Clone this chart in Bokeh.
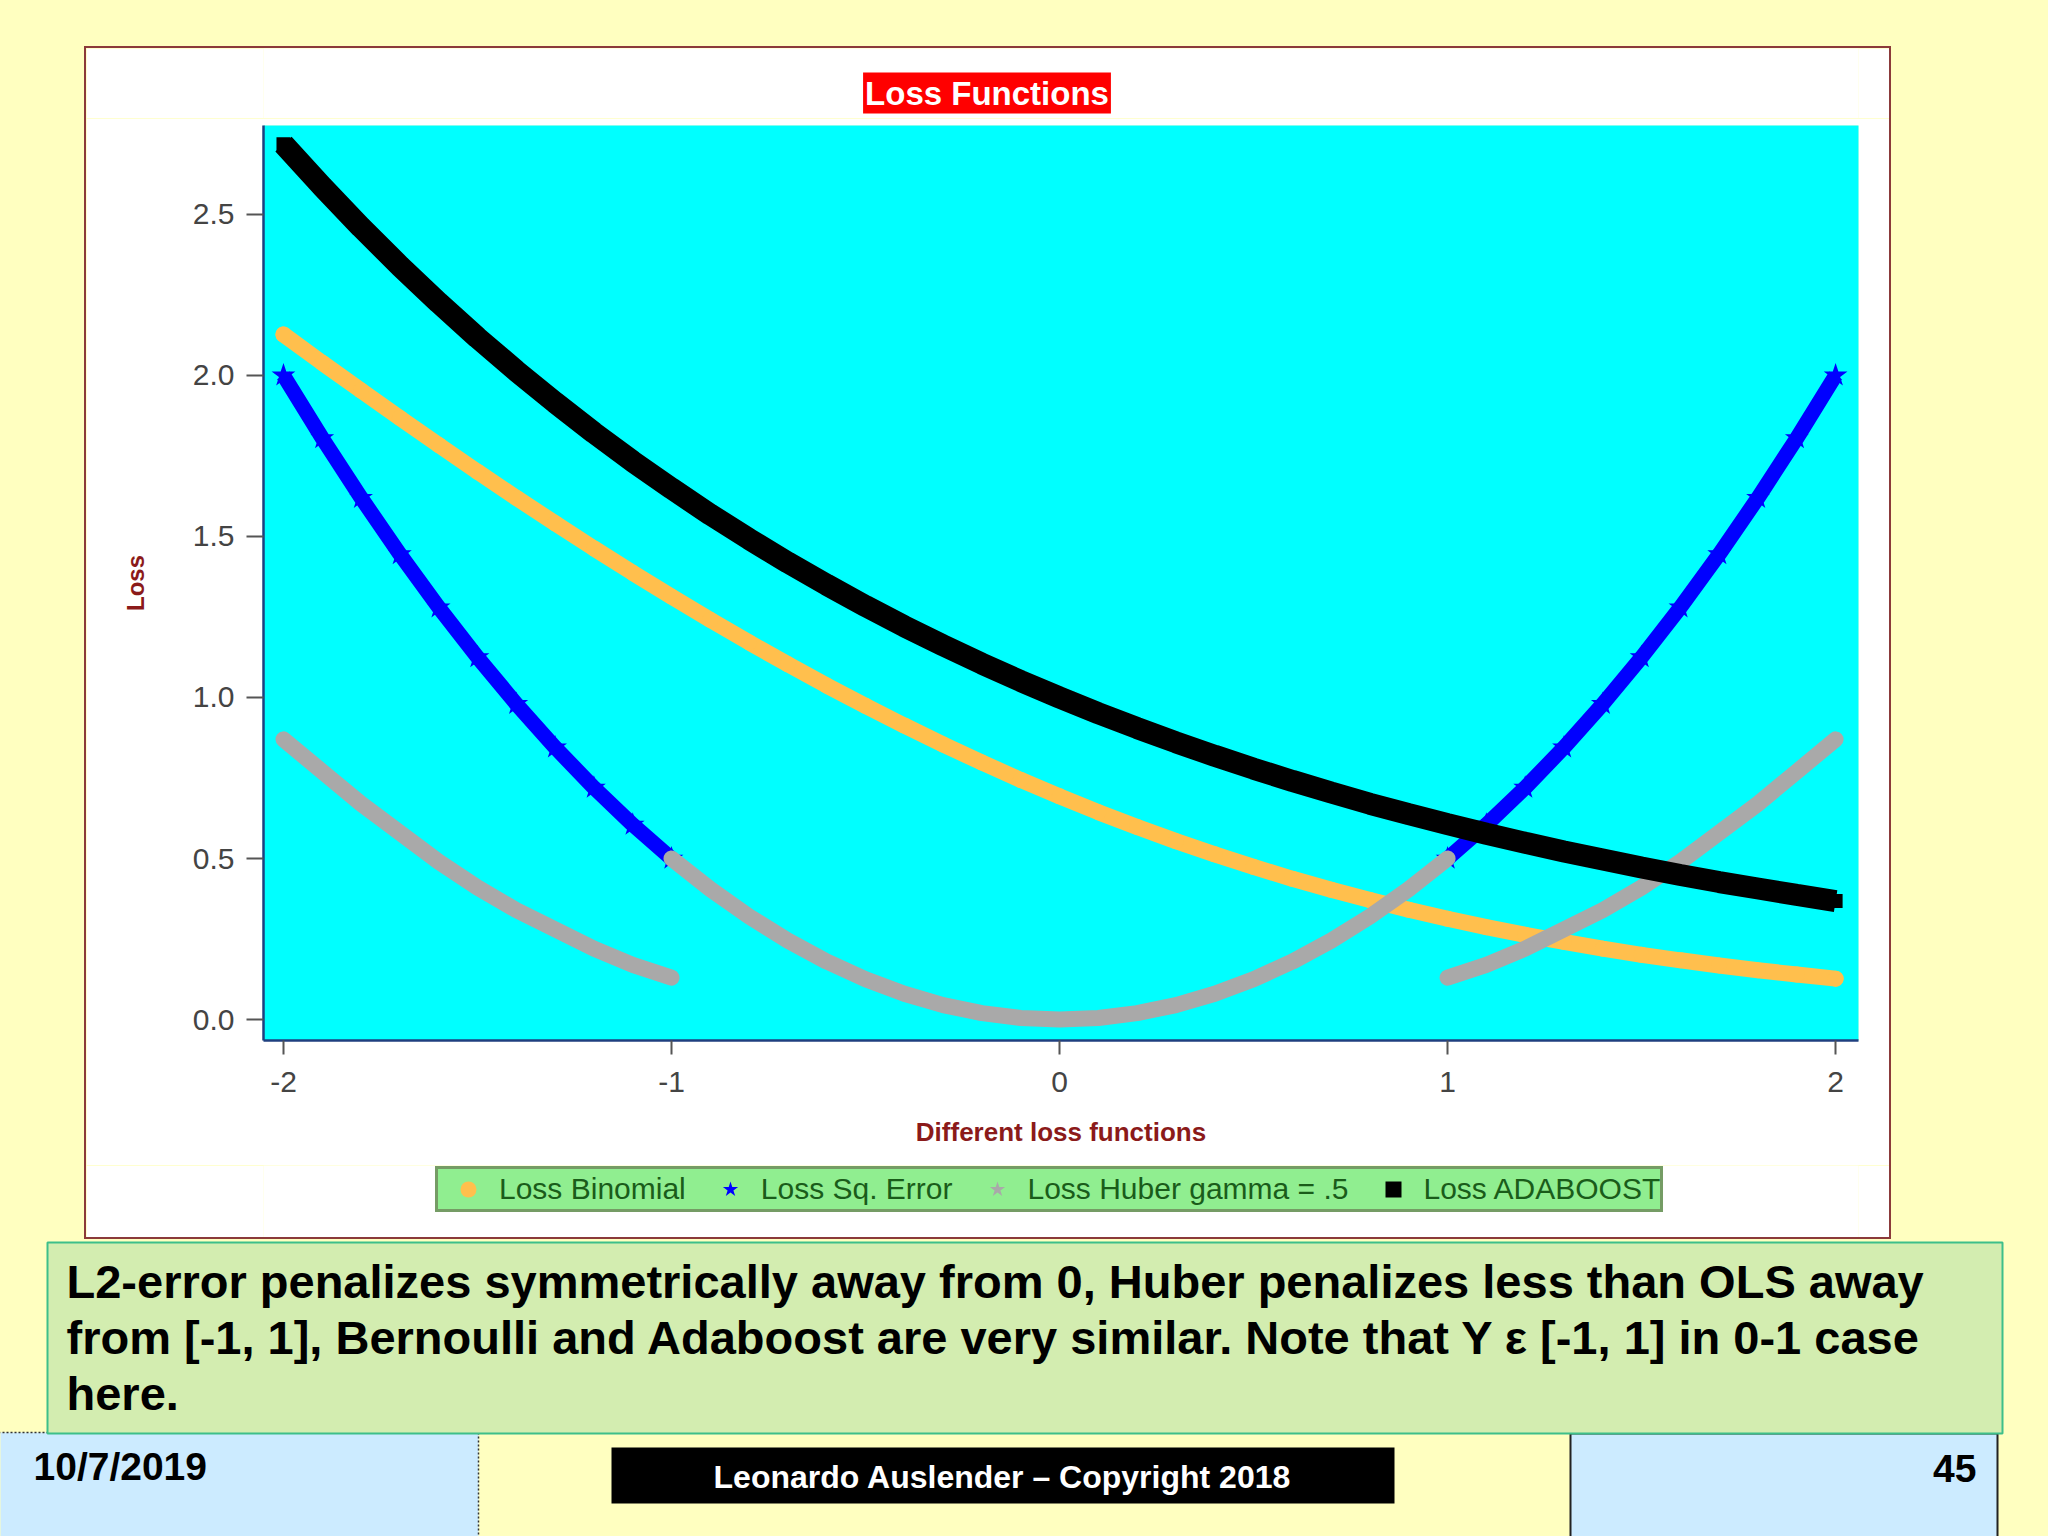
from bokeh.plotting import figure
from bokeh.models import (Range1d, FixedTicker, NumeralTickFormatter, Legend, LegendItem,
                          Label, Spacer, GlobalInlineStyleSheet)
from bokeh.layouts import column, row
from bokeh.core.properties import value
from bokeh.embed import file_html
from bokeh.resources import INLINE

# ---------------- data ----------------
x_grid = [-2.0, -1.9, -1.8, -1.7, -1.6, -1.5, -1.4, -1.3, -1.2, -1.1,
          -1.0, -0.9, -0.8, -0.7, -0.6, -0.5, -0.4, -0.3, -0.2, -0.1,
          0.0, 0.1, 0.2, 0.3, 0.4, 0.5, 0.6, 0.7, 0.8, 0.9,
          1.0, 1.1, 1.2, 1.3, 1.4, 1.5, 1.6, 1.7, 1.8, 1.9, 2.0]

loss_binomial = [2.127, 2.039, 1.953, 1.868, 1.784, 1.701, 1.620, 1.541, 1.463, 1.387,
                 1.313, 1.241, 1.171, 1.103, 1.037, 0.974, 0.913, 0.854, 0.798, 0.744,
                 0.693, 0.644, 0.598, 0.554, 0.513, 0.474, 0.437, 0.403, 0.371, 0.341,
                 0.313, 0.287, 0.263, 0.241, 0.220, 0.201, 0.184, 0.168, 0.153, 0.140, 0.127]

loss_adaboost = [2.718, 2.586, 2.460, 2.340, 2.226, 2.117, 2.014, 1.916, 1.822, 1.733,
                 1.649, 1.568, 1.492, 1.419, 1.350, 1.284, 1.221, 1.162, 1.105, 1.051,
                 1.000, 0.951, 0.905, 0.861, 0.819, 0.779, 0.741, 0.705, 0.670, 0.638,
                 0.607, 0.577, 0.549, 0.522, 0.497, 0.472, 0.449, 0.427, 0.407, 0.387, 0.368]

sq_x_left = [-2.0, -1.9, -1.8, -1.7, -1.6, -1.5, -1.4, -1.3, -1.2, -1.1, -1.0]
sq_left = [2.0, 1.805, 1.62, 1.445, 1.28, 1.125, 0.98, 0.845, 0.72, 0.605, 0.5]
sq_x_right = [1.0, 1.1, 1.2, 1.3, 1.4, 1.5, 1.6, 1.7, 1.8, 1.9, 2.0]
sq_right = [0.5, 0.605, 0.72, 0.845, 0.98, 1.125, 1.28, 1.445, 1.62, 1.805, 2.0]

huber_x_left = [-2.0, -1.9, -1.8, -1.7, -1.6, -1.5, -1.4, -1.3, -1.2, -1.1, -1.0]
huber_left = [0.87, 0.77, 0.67, 0.58, 0.49, 0.41, 0.34, 0.28, 0.22, 0.17, 0.13]
huber_x_mid = [-1.0, -0.9, -0.8, -0.7, -0.6, -0.5, -0.4, -0.3, -0.2, -0.1, 0.0,
               0.1, 0.2, 0.3, 0.4, 0.5, 0.6, 0.7, 0.8, 0.9, 1.0]
huber_mid = [0.5, 0.405, 0.32, 0.245, 0.18, 0.125, 0.08, 0.045, 0.02, 0.005, 0.0,
             0.005, 0.02, 0.045, 0.08, 0.125, 0.18, 0.245, 0.32, 0.405, 0.5]
huber_x_right = [1.0, 1.1, 1.2, 1.3, 1.4, 1.5, 1.6, 1.7, 1.8, 1.9, 2.0]
huber_right = [0.13, 0.17, 0.22, 0.28, 0.34, 0.41, 0.49, 0.58, 0.67, 0.77, 0.87]

x_ticks = [-2, -1, 0, 1, 2]
y_ticks = [0.0, 0.5, 1.0, 1.5, 2.0, 2.5]
series_labels = ["Loss Binomial", "Loss Sq. Error", "Loss Huber gamma = .5", "Loss ADABOOST"]

chart_title = "Loss Functions"
x_label = "Different loss functions"
y_label = "Loss"
note_lines = [
    "L2-error penalizes symmetrically away from 0, Huber penalizes less than OLS away",
    "from [-1, 1], Bernoulli and Adaboost are very similar. Note that Y \u03b5 [-1, 1] in 0-1 case",
    "here.",
]
date_text = "10/7/2019"
copyright_text = "Leonardo Auslender \u2013 Copyright 2018"
page_number = "45"

# ---------------- styles ----------------
YELLOW_BG = "#FFFFC0"
CYAN = "#00FFFF"
C_BIN = "#FFBF4D"
C_SQ = "#0000FF"
C_HUB = "#A9A9A9"
C_ADA = "#000000"
BORDER = "#8B3A3A"
FONT = "Liberation Sans"
BOX_W = 1803
FRAME_X = (263, 1858)   # page pixels covered by the chart's plotting frame


def blank_fig(w, h, xr, yr, bg):
    f = figure(width=w, height=h, x_range=Range1d(*xr), y_range=Range1d(*yr),
               output_backend="svg", toolbar_location=None, min_border=0,
               x_axis_type=None, y_axis_type=None,
               background_fill_color=bg, border_fill_color=bg, outline_line_color=None)
    f.grid.visible = False
    return f


# ---------------- chart title strip (frame aligned with chart frame) ----------------
t = blank_fig(BOX_W, 70, FRAME_X, (0, 70), "white")
t.add_layout(Label(x=986.5, y=25.5, text=chart_title,
                   text_align="center", text_baseline="middle",
                   text_font=FONT, text_font_size="33px", text_font_style="bold",
                   text_color="white", background_fill_color="#FF0000", padding=2))

# ---------------- chart ----------------
p = figure(width=BOX_W, height=1047,
           x_range=Range1d(-2.0515, 2.059), y_range=Range1d(-0.065, 2.776),
           output_backend="svg", toolbar_location=None,
           min_border_left=177, min_border_right=31, min_border_top=7, min_border_bottom=125,
           background_fill_color=CYAN, border_fill_color="white", outline_line_color=None)
p.grid.visible = False

for ax in (p.xaxis[0], p.yaxis[0]):
    ax.axis_line_color = "#1F3F7F"
    ax.axis_line_width = 2.5
    ax.major_tick_line_color = "#555555"
    ax.major_tick_line_width = 2
    ax.major_tick_in = 0
    ax.minor_tick_line_color = None
    ax.major_label_text_font = FONT
    ax.major_label_text_font_size = "30px"
    ax.major_label_text_color = "#444444"
    ax.axis_label_text_font = FONT
    ax.axis_label_text_font_style = "bold"
    ax.axis_label_text_color = "#8B1A1A"

p.xaxis.ticker = FixedTicker(ticks=x_ticks)
p.xaxis.formatter = NumeralTickFormatter(format="0")
p.yaxis.ticker = FixedTicker(ticks=y_ticks)
p.yaxis.formatter = NumeralTickFormatter(format="0.0")
p.yaxis.major_tick_out = 17
p.xaxis.major_tick_out = 14
p.yaxis.major_label_standoff = 12
p.xaxis.major_label_standoff = 17
p.yaxis.axis_label = y_label
p.yaxis.axis_label_text_font_size = "24px"
p.yaxis.axis_label_standoff = 41
p.xaxis.axis_label = x_label
p.xaxis.axis_label_text_font_size = "26px"
p.xaxis.axis_label_standoff = 22

# binomial
p.line(x_grid, loss_binomial, line_color=C_BIN, line_width=16, line_cap="round")
p.scatter(x_grid, loss_binomial, marker="circle", size=16, fill_color=C_BIN, line_color=None)
# squared error
p.line(sq_x_left, sq_left, line_color=C_SQ, line_width=15)
p.line(sq_x_right, sq_right, line_color=C_SQ, line_width=15)
p.scatter(sq_x_left + sq_x_right, sq_left + sq_right, marker="star", size=25,
          fill_color=C_SQ, line_color=None)
# huber
p.line(huber_x_left, huber_left, line_color=C_HUB, line_width=16, line_cap="round")
p.line(huber_x_mid, huber_mid, line_color=C_HUB, line_width=16, line_cap="round")
p.line(huber_x_right, huber_right, line_color=C_HUB, line_width=16, line_cap="round")
# adaboost
p.line(x_grid, loss_adaboost, line_color=C_ADA, line_width=22)
p.scatter(x_grid, loss_adaboost, marker="square", size=14, fill_color=C_ADA, line_color=None)

# ---------------- legend strip (frame aligned with chart frame) ----------------
# marker renderers carry the series data; their points fall outside this strip's range,
# so only their legend glyphs are visible
lg = blank_fig(BOX_W, 72, FRAME_X, (0, 1), "white")
k_bin = lg.scatter(x_grid, loss_binomial, marker="circle", size=19,
                   fill_color=C_BIN, line_color=None)
k_sq = lg.scatter(sq_x_left, sq_left, marker="star", size=28,
                  fill_color=C_SQ, line_color=None)
k_hub = lg.scatter(huber_x_left, huber_left, marker="star", size=28,
                   fill_color=C_HUB, line_color=None)
k_ada = lg.scatter(x_grid, loss_adaboost, marker="square", size=16,
                   fill_color=C_ADA, line_color=None)
legend = Legend(
    items=[LegendItem(label=series_labels[0], renderers=[k_bin]),
           LegendItem(label=series_labels[1], renderers=[k_sq]),
           LegendItem(label=series_labels[2], renderers=[k_hub]),
           LegendItem(label=series_labels[3], renderers=[k_ada])],
    orientation="horizontal", location=(172, 25), margin=0,
    padding=0, spacing=14, label_standoff=1, glyph_width=60, glyph_height=40,
    label_text_font=FONT, label_text_font_size="30px", label_text_color="#1A5C1A",
    background_fill_color="#90EE90", background_fill_alpha=1.0,
    border_line_color="#5A4A3A", border_line_width=3)
lg.add_layout(legend)

# ---------------- bottom of slide ----------------
q = blank_fig(2048, 297, (0, 2048), (1536, 1239), YELLOW_BG)

# date box
q.quad(left=[-2], right=[478], top=[1432], bottom=[1540], fill_color="#CCEBFF",
       line_color="#333333", line_width=1.5, line_dash="2 2")
# page number box
q.quad(left=[1570], right=[1997], top=[1433], bottom=[1540], fill_color="#CCEBFF",
       line_color="#222222", line_width=2)
# note box
q.quad(left=[47], right=[2002], top=[1242], bottom=[1433], fill_color="#D3EDB0",
       line_color="#3DBF8A", line_width=2)
q.text(x=[66, 66, 66], y=[1281, 1337, 1393], text=note_lines,
       text_font=value(FONT), text_font_size="47px", text_font_style="bold",
       text_color="black", text_align="left", text_baseline="alphabetic")
# copyright
q.quad(left=[611], right=[1394], top=[1447], bottom=[1503], fill_color="black", line_color=None)
q.text(x=[1002], y=[1476], text=[copyright_text], text_font=value(FONT), text_font_size="32px",
       text_font_style="bold", text_color="white", text_align="center", text_baseline="middle")
q.text(x=[33], y=[1466], text=[date_text], text_font=value(FONT), text_font_size="39px",
       text_font_style="bold", text_color="black", text_align="left", text_baseline="alphabetic")
q.text(x=[1976], y=[1468], text=[page_number], text_font=value(FONT), text_font_size="39px",
       text_font_style="bold", text_color="black", text_align="right", text_baseline="alphabetic")

# ---------------- layout ----------------
def bar(w, h):
    return Spacer(width=w, height=h, styles={"background-color": BORDER})

chart_block = column(bar(BOX_W, 2), t, p, lg, bar(BOX_W, 2), spacing=0)
mid = row(Spacer(width=84, height=1193), bar(2, 1193), chart_block, bar(2, 1193),
          Spacer(width=157, height=1193), spacing=0)
bg_sheet = GlobalInlineStyleSheet(css="html, body { background-color: #FFFFC0; }")
root = column(Spacer(width=2048, height=46), mid, q, spacing=0,
              styles={"background-color": YELLOW_BG}, stylesheets=[bg_sheet])

open("out.html", "w").write(file_html(root, INLINE, title="Loss Functions"))
